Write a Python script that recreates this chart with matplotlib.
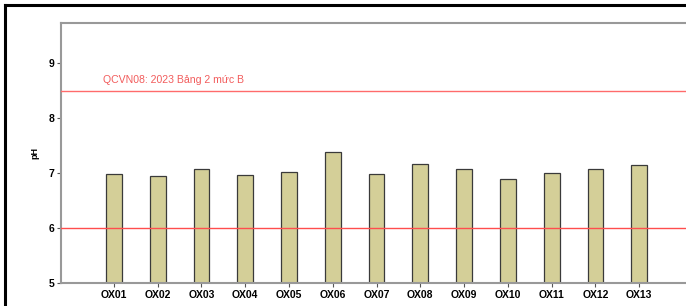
import matplotlib
matplotlib.use('Agg')
import matplotlib.pyplot as plt
from matplotlib.lines import Line2D

# Sample sites and measured pH
sites = ['OX01', 'OX02', 'OX03', 'OX04', 'OX05', 'OX06', 'OX07',
         'OX08', 'OX09', 'OX10', 'OX11', 'OX12', 'OX13']
ph = [6.98, 6.94, 7.08, 6.97, 7.02, 7.38, 6.99, 7.16, 7.07, 6.90, 7.01, 7.07, 7.15]
# Standard limits
upper_limit = 8.5
lower_limit = 6.0
limit_label = 'QCVN08: 2023 Bảng 2 mức B'
yticks = [5, 6, 7, 8, 9]

plt.rcParams['font.family'] = ['Liberation Sans', 'DejaVu Sans']

fig = plt.figure(figsize=(6.86, 3.06), dpi=100)
ax = fig.add_axes([61/686, (306-283)/306, 1 - 61/686, (283-23)/306])

x = list(range(len(sites)))
ax.bar(x, ph, width=0.36, color='#d4cf98', edgecolor='#3a3a3a', linewidth=0.9, zorder=2)
ax.axhline(upper_limit, color='#ff6b6b', linewidth=1.0, zorder=3)
ax.axhline(lower_limit, color='#ff4d4d', linewidth=1.0, zorder=3)
ax.text(-0.25, upper_limit + 0.1, limit_label, color='#f25c5c', fontsize=7.6, va='bottom', ha='left')

ax.set_xlim(-1.21, 13.07)
ax.set_ylim(5, 9.73)
ax.set_xticks(x)
ax.set_xticklabels(sites, fontsize=7.5, fontweight='bold')
ax.set_yticks(yticks)
ax.set_yticklabels([str(t) for t in yticks], fontsize=7.5, fontweight='bold')
ax.set_ylabel('pH', fontsize=6.5, fontweight='bold', labelpad=6)
ax.tick_params(length=3, width=0.8, color='#555555', pad=2)

for side in ['left', 'bottom', 'top']:
    ax.spines[side].set_color('#999999')
    ax.spines[side].set_linewidth(1.5)
ax.spines['right'].set_visible(False)

# black frame along the top and left edges
fig.add_artist(Line2D([5/686, 1], [1 - 5/306, 1 - 5/306], color='black', linewidth=2.2, transform=fig.transFigure))
fig.add_artist(Line2D([5/686, 5/686], [0, 1 - 5/306], color='black', linewidth=2.2, transform=fig.transFigure))

fig.savefig('out.png', dpi=100)
